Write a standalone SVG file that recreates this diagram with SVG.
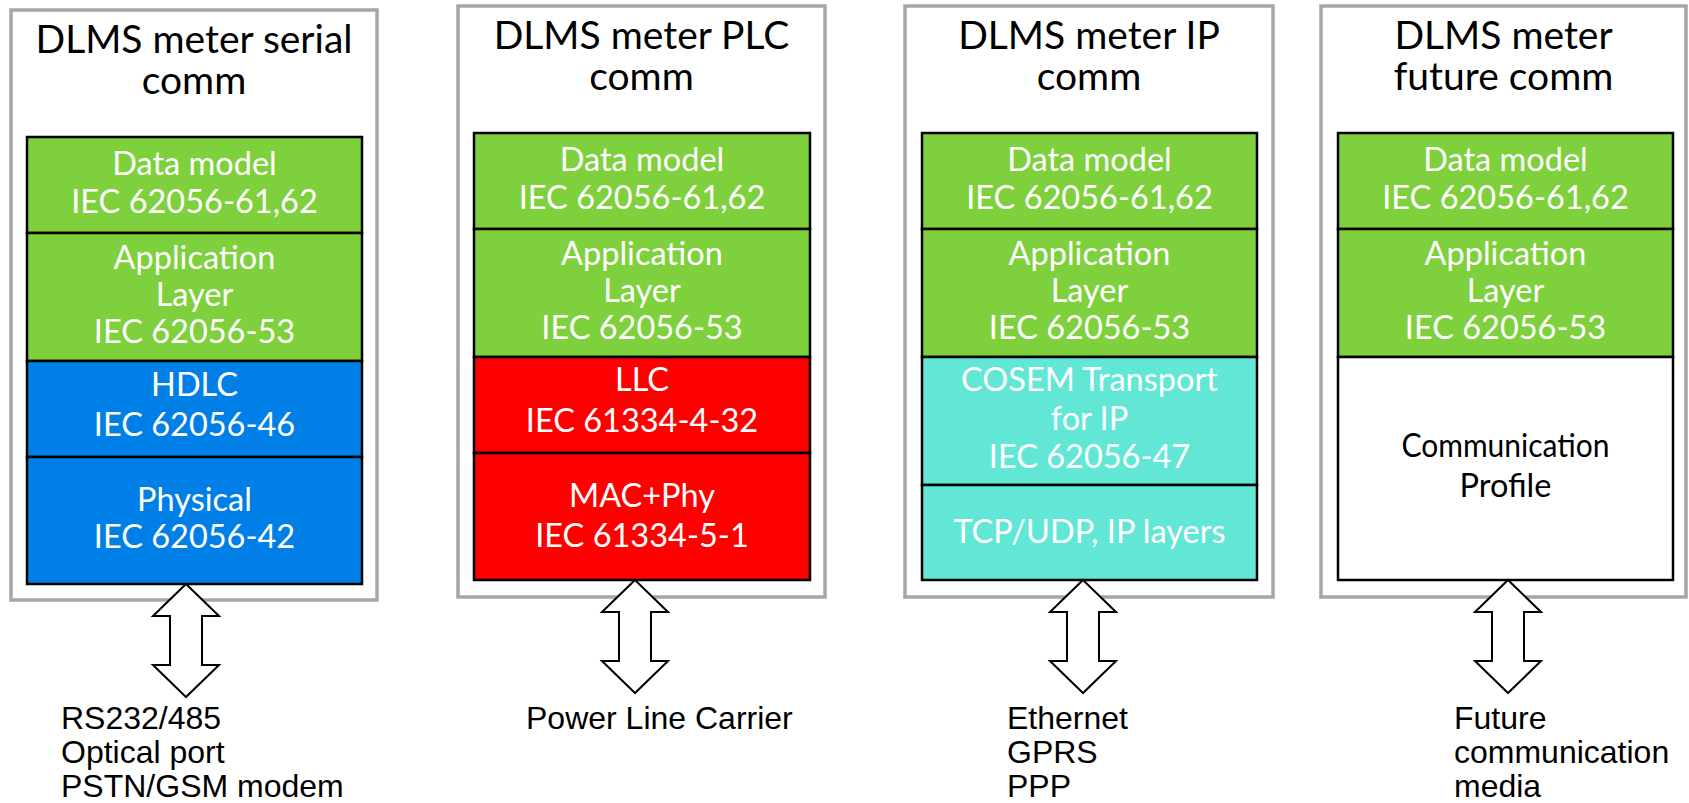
<svg xmlns="http://www.w3.org/2000/svg" xmlns:xlink="http://www.w3.org/1999/xlink" width="1689" height="803" viewBox="0 0 1689 803">
<style>
.outer{fill:#fff;stroke:#a6a6a6;stroke-width:3.5}
.layer{stroke:#000;stroke-width:2.5}
.g{fill:#7ed13c}.b{fill:#0080e6}.r{fill:#ff0000}.c{fill:#62e7d7}.w{fill:#fff}
.title{font-family:Lato,"Open Sans",sans-serif;font-size:39px;fill:#000;text-anchor:middle}
.lt{font-family:Lato,"Open Sans",sans-serif;font-size:32.5px;fill:#fff;text-anchor:middle}
.ltb{fill:#000}
.lab{font-family:"Liberation Sans",Arial,sans-serif;font-size:32px;fill:#000}
.arrow{fill:#fff;stroke:#000;stroke-width:2}
</style>
<defs>
<path id="dar" class="arrow" d="M0,0 L33,32 L16,32 L16,81 L33,81 L0,113 L-33,81 L-16,81 L-16,32 L-33,32 Z"/>
</defs>
<rect width="1689" height="803" fill="#fff"/>

<g id="serial">
<rect class="outer" x="11" y="10" width="366" height="590"/>
<text class="title" x="194" y="53">DLMS meter serial</text>
<text class="title" x="194" y="94">comm</text>
<rect class="layer g" x="27" y="137" width="335" height="96"/>
<rect class="layer g" x="27" y="233" width="335" height="128"/>
<rect class="layer b" x="27" y="361" width="335" height="96"/>
<rect class="layer b" x="27" y="457" width="335" height="127"/>
<text class="lt" x="194.5" y="175">Data model</text>
<text class="lt" x="194.5" y="213">IEC 62056-61,62</text>
<text class="lt" x="194.5" y="269">Application</text>
<text class="lt" x="194.5" y="306">Layer</text>
<text class="lt" x="194.5" y="343">IEC 62056-53</text>
<text class="lt" x="194.5" y="396">HDLC</text>
<text class="lt" x="194.5" y="436">IEC 62056-46</text>
<text class="lt" x="194.5" y="511">Physical</text>
<text class="lt" x="194.5" y="548">IEC 62056-42</text>
</g>

<g id="plc">
<rect class="outer" x="458" y="6" width="367" height="591"/>
<text class="title" x="641.5" y="49">DLMS meter PLC</text>
<text class="title" x="641.5" y="90">comm</text>
<rect class="layer g" x="474" y="133" width="336" height="96"/>
<rect class="layer g" x="474" y="229" width="336" height="128"/>
<rect class="layer r" x="474" y="357" width="336" height="96"/>
<rect class="layer r" x="474" y="453" width="336" height="127"/>
<text class="lt" x="642" y="171">Data model</text>
<text class="lt" x="642" y="209">IEC 62056-61,62</text>
<text class="lt" x="642" y="265">Application</text>
<text class="lt" x="642" y="302">Layer</text>
<text class="lt" x="642" y="339">IEC 62056-53</text>
<text class="lt" x="642" y="391">LLC</text>
<text class="lt" x="642" y="432">IEC 61334-4-32</text>
<text class="lt" x="642" y="507">MAC+Phy</text>
<text class="lt" x="642" y="547">IEC 61334-5-1</text>
</g>

<g id="ip">
<rect class="outer" x="905" y="6" width="368" height="591"/>
<text class="title" x="1089" y="49">DLMS meter IP</text>
<text class="title" x="1089" y="90">comm</text>
<rect class="layer g" x="922" y="133" width="335" height="96"/>
<rect class="layer g" x="922" y="229" width="335" height="128"/>
<rect class="layer c" x="922" y="357" width="335" height="128"/>
<rect class="layer c" x="922" y="485" width="335" height="95"/>
<text class="lt" x="1089.5" y="171">Data model</text>
<text class="lt" x="1089.5" y="209">IEC 62056-61,62</text>
<text class="lt" x="1089.5" y="265">Application</text>
<text class="lt" x="1089.5" y="302">Layer</text>
<text class="lt" x="1089.5" y="339">IEC 62056-53</text>
<text class="lt" x="1089.5" y="391">COSEM Transport</text>
<text class="lt" x="1089.5" y="430">for IP</text>
<text class="lt" x="1089.5" y="468">IEC 62056-47</text>
<text class="lt" x="1089.5" y="543">TCP/UDP, IP layers</text>
</g>

<g id="future">
<rect class="outer" x="1321" y="6" width="365" height="591"/>
<text class="title" x="1503.5" y="49">DLMS meter</text>
<text class="title" x="1503.5" y="90">future comm</text>
<rect class="layer g" x="1338" y="133" width="335" height="96"/>
<rect class="layer g" x="1338" y="229" width="335" height="128"/>
<rect class="layer w" x="1338" y="357" width="335" height="223"/>
<text class="lt" x="1505.5" y="171">Data model</text>
<text class="lt" x="1505.5" y="209">IEC 62056-61,62</text>
<text class="lt" x="1505.5" y="265">Application</text>
<text class="lt" x="1505.5" y="302">Layer</text>
<text class="lt" x="1505.5" y="339">IEC 62056-53</text>
<text class="lt ltb" x="1505.5" y="457" textLength="208" lengthAdjust="spacingAndGlyphs">Communication</text>
<text class="lt ltb" x="1505.5" y="497">Profile</text>
</g>

<g id="connectors">
<use xlink:href="#dar" href="#dar" transform="translate(186,584)"/>
<use xlink:href="#dar" href="#dar" transform="translate(635,580)"/>
<use xlink:href="#dar" href="#dar" transform="translate(1083,580)"/>
<use xlink:href="#dar" href="#dar" transform="translate(1508,580)"/>
</g>

<g id="labels">
<text class="lab" x="61" y="729">RS232/485</text>
<text class="lab" x="61" y="763">Optical port</text>
<text class="lab" x="61" y="797">PSTN/GSM modem</text>
<text class="lab" x="526" y="729">Power Line Carrier</text>
<text class="lab" x="1007" y="729">Ethernet</text>
<text class="lab" x="1007" y="763">GPRS</text>
<text class="lab" x="1007" y="797">PPP</text>
<text class="lab" x="1454" y="729">Future</text>
<text class="lab" x="1454" y="763">communication</text>
<text class="lab" x="1454" y="797">media</text>
</g>
</svg>
